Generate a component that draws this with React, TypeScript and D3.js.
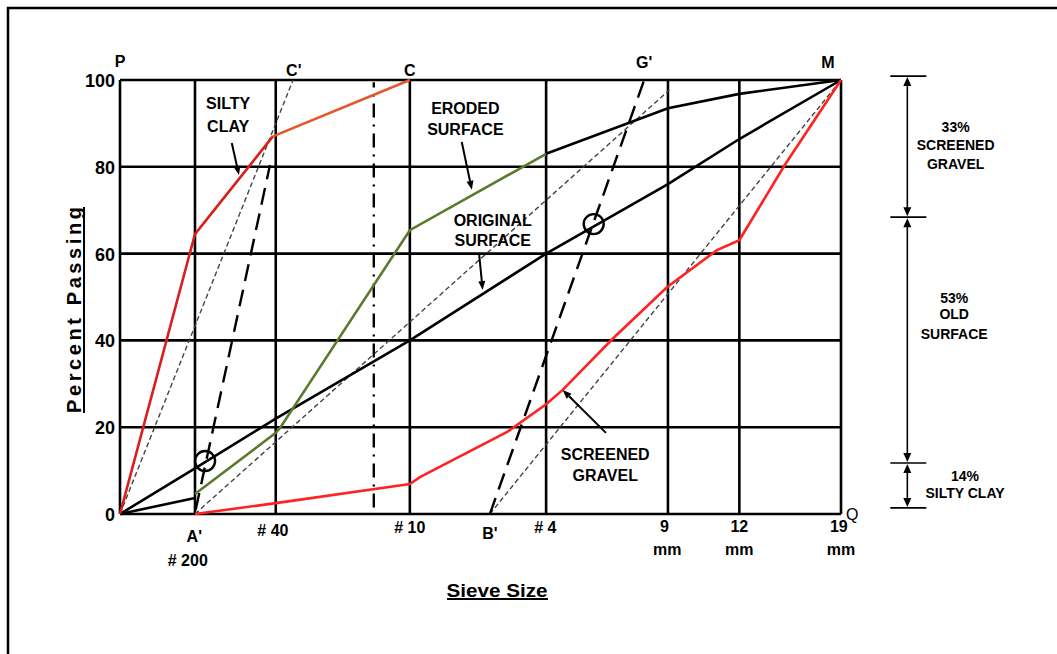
import React from "react";
import * as d3 from "d3";

const W = 1057;
const H = 654;

// Sieve positions along the gradation axis (arbitrary 0-100 units)
const sieveNames = ["P", "#200", "#40", "#10", "#4", "9mm", "12mm", "19mm"];
const sievePositions = [0, 10.4, 21.6, 40.2, 59.1, 76.0, 85.9, 100];
const yTicks = [0, 20, 40, 60, 80, 100];

// Silty clay curve (red lower part, orange upper part)
const siltyLowerX = [0, 10.4, 21.2];
const siltyLowerY = [0, 64.5, 87];
const siltyUpperX = [21.2, 40.2];
const siltyUpperY = [87, 100];

// Original surface
const originalX = [0, 10.4, 21.6, 40.2, 59.1, 76.0, 85.9, 100];
const originalY = [0, 10.5, 22, 40, 60, 76, 86.4, 100];

// Eroded surface (black fine part, green middle, black coarse part)
const erodedFineX = [0, 10.4];
const erodedFineY = [0, 3.7];
const erodedMidX = [10.4, 21.6, 22.2, 40.2, 59.1];
const erodedMidY = [4.6, 18.7, 19.8, 65.4, 83];
const erodedCoarseX = [59.1, 76.0, 85.9, 100];
const erodedCoarseY = [83, 93.5, 96.8, 100];

// Screened gravel
const screenedX = [10.4, 21.6, 40.2, 41.6, 53.7, 59.1, 61.4, 68.4, 75.9, 82.8, 85.9, 92.2, 100];
const screenedY = [0, 2.5, 6.9, 8.5, 18.9, 25.3, 28.6, 40.5, 52.3, 60.8, 63.1, 80.4, 100];

// Thin dashed construction lines
const thinDashX = [[0, 24.0], [10.4, 76.2], [51.3, 100]];
const thinDashY = [[0, 100], [0, 97.7], [0, 100]];
// Long dashed construction lines (A'-C', B'-G')
const longDashX = [[10.5, 20.8], [51.3, 72.7]];
const longDashY = [[1, 80.4], [0, 100]];
// Dash-dot vertical
const dashDotX = [35.2, 35.2];
const dashDotY = [1.5, 99.5];
// Circled intersections
const circleX = [11.8, 65.7];
const circleY = [12.2, 66.8];

// Point labels
const pointLabels = ["P", "C'", "C", "G'", "M"];
const pointLabelX = [0, 24.1, 40.2, 72.7, 98.2];
const pointLabelY = [104.3, 102.3, 102.1, 104.1, 104.1];

// Bottom labels
const bottomLabels = ["A'", "# 200", "# 40", "# 10", "B'", "# 4", "9", "12", "19", "mm", "mm", "mm"];
const bottomLabelX = [10.3, 9.4, 21.2, 40.2, 51.3, 59.0, 75.5, 85.9, 99.7, 75.9, 85.9, 100];
const bottomLabelY = [-5.1, -10.8, -3.9, -3.0, -4.4, -3.2, -2.8, -2.8, -2.8, -8.1, -8.1, -8.1];

// In-plot annotations
const noteLines = [["SILTY", "CLAY"], ["ERODED", "SURFACE"], ["ORIGINAL", "SURFACE"], ["SCREENED", "GRAVEL"]];
const noteX = [15.0, 47.9, 51.7, 67.3];
const noteY = [[94.5, 89.4], [93.5, 88.5], [67.7, 63.1], [13.6, 8.8]];
const arrowFromX = [15.5, 47.4, 49.8, 67.4];
const arrowFromY = [85.5, 85.7, 60.1, 18.7];
const arrowToX = [16.5, 48.8, 50.3, 61.4];
const arrowToY = [78.1, 74.7, 51.6, 28.6];

// Right bracket
const bracketBounds = [100.9, 68.4, 11.75, 1.4];
const bracketTexts = [["33%", "SCREENED", "GRAVEL"], ["53%", "OLD", "SURFACE"], ["14%", "SILTY CLAY"]];
const bracketTextY = [[89.2, 85.1, 80.7], [49.8, 46.0, 41.5], [8.8, 4.8]];
const bracketTextX = [115.9, 115.7, 117.2];

const x = d3.scaleLinear().domain([0, 100]).range([120, 841]);
const y = d3.scaleLinear().domain([0, 100]).range([514, 80]);

const lineGen = d3
  .line<[number, number]>()
  .x((d) => x(d[0]))
  .y((d) => y(d[1]));

const pts = (xs: number[], ys: number[]) => xs.map((v, i) => [v, ys[i]] as [number, number]);

const SANS = "'Liberation Sans', Arial, sans-serif";
const NARROW = "'Liberation Sans Narrow', 'Arial Narrow', 'Liberation Sans', Arial, sans-serif";

function Arrow({ x1, y1, x2, y2, size = 9, width = 7 }: any) {
  const a = Math.atan2(y2 - y1, x2 - x1);
  const bx = x2 - size * Math.cos(a);
  const by = y2 - size * Math.sin(a);
  const px = (width / 2) * Math.cos(a + Math.PI / 2);
  const py = (width / 2) * Math.sin(a + Math.PI / 2);
  return (
    <g>
      <line x1={x1} y1={y1} x2={bx} y2={by} stroke="#000" strokeWidth={2} />
      <polygon points={`${x2},${y2} ${bx + px},${by + py} ${bx - px},${by - py}`} fill="#000" />
    </g>
  );
}

export default function App() {
  const bx = x(109.2);
  return (
    <svg
      width={W}
      height={H}
      viewBox={`0 0 ${W} ${H}`}
      style={{ position: "absolute", left: 0, top: 0, background: "#fff" }}
    >
      <rect x={0} y={0} width={W} height={H} fill="#fff" />
      {/* outer frame */}
      <rect x={8} y={8} width={1200} height={800} fill="none" stroke="#000" strokeWidth={2.5} />

      {/* grid */}
      {sievePositions.map((p, i) => (
        <line key={"v" + i} x1={x(p)} x2={x(p)} y1={y(0)} y2={y(100)} stroke="#000" strokeWidth={2.6} />
      ))}
      {yTicks.map((t) => (
        <line key={"h" + t} x1={x(0)} x2={x(100)} y1={y(t)} y2={y(t)} stroke="#000" strokeWidth={2.6} />
      ))}

      {/* y tick labels */}
      {yTicks.map((t) => (
        <text
          key={"yt" + t}
          x={x(0) - 5}
          y={y(t) + 1}
          textAnchor="end"
          dominantBaseline="central"
          style={{ font: `bold 18px ${NARROW}` }}
        >
          {t}
        </text>
      ))}

      {/* thin dashed construction lines */}
      {thinDashX.map((xs, i) => (
        <path
          key={"td" + i}
          d={lineGen(pts(xs, thinDashY[i])) || ""}
          fill="none"
          stroke="#444"
          strokeWidth={1.4}
          strokeDasharray="5 3"
        />
      ))}

      {/* dash-dot vertical */}
      <path
        d={lineGen(pts(dashDotX, dashDotY)) || ""}
        fill="none"
        stroke="#000"
        strokeWidth={2.4}
        strokeDasharray="14 7 2 7"
      />

      {/* long dashed */}
      {longDashX.map((xs, i) => (
        <path
          key={"ld" + i}
          d={lineGen(pts(xs, longDashY[i])) || ""}
          fill="none"
          stroke="#000"
          strokeWidth={2.4}
          strokeDasharray="17 9"
        />
      ))}

      {/* original surface */}
      <path d={lineGen(pts(originalX, originalY)) || ""} fill="none" stroke="#000" strokeWidth={2.6} />

      {/* eroded surface */}
      <path d={lineGen(pts(erodedFineX, erodedFineY)) || ""} fill="none" stroke="#000" strokeWidth={2.6} />
      <path d={lineGen(pts(erodedMidX, erodedMidY)) || ""} fill="none" stroke="#5b7a2e" strokeWidth={2.6} />
      <path d={lineGen(pts(erodedCoarseX, erodedCoarseY)) || ""} fill="none" stroke="#000" strokeWidth={2.6} />

      {/* silty clay */}
      <path d={lineGen(pts(siltyLowerX, siltyLowerY)) || ""} fill="none" stroke="#d91e1e" strokeWidth={2.6} />
      <path d={lineGen(pts(siltyUpperX, siltyUpperY)) || ""} fill="none" stroke="#e2582a" strokeWidth={2.6} />

      {/* screened gravel */}
      <path d={lineGen(pts(screenedX, screenedY)) || ""} fill="none" stroke="#ff2222" strokeWidth={2.6} />

      {/* circles */}
      {circleX.map((cx, i) => (
        <circle key={"c" + i} cx={x(cx)} cy={y(circleY[i])} r={10} fill="none" stroke="#000" strokeWidth={2.4} />
      ))}

      {/* point labels */}
      {pointLabels.map((l, i) => (
        <text
          key={"pl" + i}
          x={x(pointLabelX[i])}
          y={y(pointLabelY[i])}
          textAnchor="middle"
          dominantBaseline="central"
          style={{ font: `bold 16px ${SANS}` }}
        >
          {l}
        </text>
      ))}
      <text x={x(100) + 5} y={y(0)} dominantBaseline="central" style={{ font: `16px ${SANS}` }}>
        Q
      </text>

      {/* bottom labels */}
      {bottomLabels.map((l, i) => (
        <text
          key={"bl" + i}
          x={x(bottomLabelX[i])}
          y={y(bottomLabelY[i])}
          textAnchor="middle"
          dominantBaseline="central"
          style={{ font: `bold 16px ${NARROW}` }}
        >
          {l}
        </text>
      ))}

      {/* axis titles */}
      <text
        x={497}
        y={590}
        textAnchor="middle"
        dominantBaseline="central"
        textLength={101}
        lengthAdjust="spacingAndGlyphs"
        style={{ font: `bold 19px ${SANS}` }}
      >
        Sieve Size
      </text>
      <line x1={447} x2={548} y1={599} y2={599} stroke="#000" strokeWidth={2} />
      <g transform="translate(74,310) rotate(-90)">
        <text
          x={0}
          y={0}
          textAnchor="middle"
          dominantBaseline="central"
          textLength={206}
          lengthAdjust="spacing"
          style={{ font: `bold 20px ${SANS}` }}
        >
          Percent   Passing
        </text>
        <line x1={-103} x2={103} y1={10} y2={10} stroke="#000" strokeWidth={2} />
      </g>

      {/* in-plot annotations */}
      {noteLines.map((lines, i) => (
        <g key={"n" + i}>
          {lines.map((t, j) => (
            <text
              key={j}
              x={x(noteX[i])}
              y={y(noteY[i][j])}
              textAnchor="middle"
              dominantBaseline="central"
              style={{ font: `bold 16px ${SANS}` }}
            >
              {t}
            </text>
          ))}
          <Arrow x1={x(arrowFromX[i])} y1={y(arrowFromY[i])} x2={x(arrowToX[i])} y2={y(arrowToY[i])} />
        </g>
      ))}

      {/* right bracket */}
      {bracketBounds.map((b, i) => (
        <line
          key={"bb" + i}
          x1={bx - 17}
          x2={bx + 19}
          y1={y(b)}
          y2={y(b)}
          stroke="#000"
          strokeWidth={1.6}
        />
      ))}
      {bracketBounds.slice(0, -1).map((b, i) => (
        <g key={"ba" + i}>
          <line x1={bx} x2={bx} y1={y(b) + 8} y2={y(bracketBounds[i + 1]) - 8} stroke="#000" strokeWidth={1.6} />
          <polygon
            points={`${bx},${y(b) + 1} ${bx - 4},${y(b) + 10} ${bx + 4},${y(b) + 10}`}
            fill="#000"
          />
          <polygon
            points={`${bx},${y(bracketBounds[i + 1]) - 1} ${bx - 4},${y(bracketBounds[i + 1]) - 10} ${bx + 4},${y(bracketBounds[i + 1]) - 10}`}
            fill="#000"
          />
        </g>
      ))}
      {bracketTexts.map((lines, i) => (
        <g key={"bt" + i}>
          {lines.map((t, j) => (
            <text
              key={j}
              x={x(bracketTextX[i])}
              y={y(bracketTextY[i][j])}
              textAnchor="middle"
              dominantBaseline="central"
              style={{ font: `bold 14px ${SANS}` }}
            >
              {t}
            </text>
          ))}
        </g>
      ))}
    </svg>
  );
}
